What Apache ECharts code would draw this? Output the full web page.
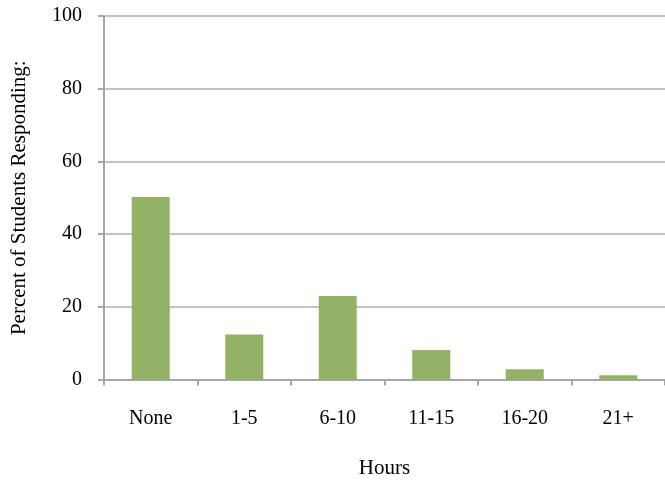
<!DOCTYPE html>
<html><head><meta charset="utf-8">
<script src="https://cdn.jsdelivr.net/npm/echarts@6/dist/echarts.min.js"></script>
<style>html,body{margin:0;padding:0;background:#fff}#c{width:665px;height:483px}</style>
</head><body><div id="c"></div>
<script>
const categories = ["None","1-5","6-10","11-15","16-20","21+"];
const values = [50.2, 12.4, 23.0, 8.1, 2.8, 1.15];
const yTicks = {min:0, max:100, interval:20};
const xTitle = "Hours";
const yTitle = "Percent of Students Responding:";
const font = "'Liberation Serif', 'DejaVu Serif', serif";
const chart = echarts.init(document.getElementById('c'), null, {renderer:'canvas'});
chart.setOption({
  animation:false,
  grid:{left:104, top:16, right:0, bottom:103.5, containLabel:false, outerBoundsMode:'none'},
  xAxis:{type:'category', data:categories, boundaryGap:true,
    name:xTitle, nameLocation:'middle', nameGap:78,
    nameTextStyle:{fontFamily:font, fontSize:21, color:'#000'},
    axisLine:{lineStyle:{color:'#a6a6a6', width:2}},
    axisTick:{show:true, alignWithLabel:false, length:6, lineStyle:{color:'#a6a6a6', width:2}},
    axisLabel:{fontFamily:font, fontSize:20, color:'#000', margin:29}},
  yAxis:{type:'value', min:yTicks.min, max:yTicks.max, interval:yTicks.interval,
    name:yTitle, nameLocation:'middle', nameGap:74, nameRotate:90,
    nameTextStyle:{fontFamily:font, fontSize:21, color:'#000'},
    axisLine:{show:true, lineStyle:{color:'#a6a6a6', width:2}},
    axisTick:{show:true, length:6, lineStyle:{color:'#a6a6a6', width:2}},
    splitLine:{lineStyle:{color:'#c3c3c3', width:2}},
    axisLabel:{fontFamily:font, fontSize:20, color:'#000', margin:22}},
  series:[{type:'bar', data:values, barWidth:38,
    itemStyle:{color:'#94b266'}}]
});
</script></body></html>
